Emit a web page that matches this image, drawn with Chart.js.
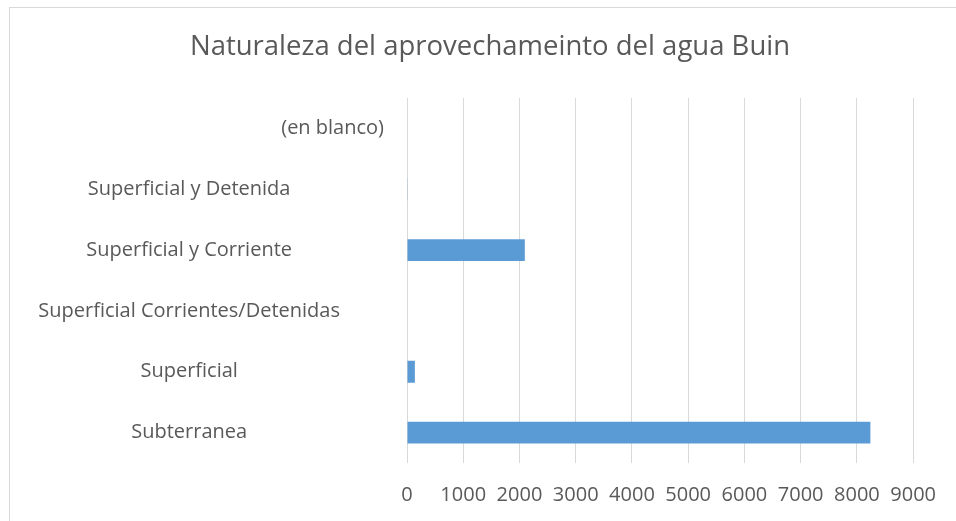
<!DOCTYPE html>
<html>
<head>
<meta charset="utf-8">
<script src="https://cdn.jsdelivr.net/npm/chart.js@4/dist/chart.umd.min.js"></script>
<style>
  body { margin: 0; background: #fff; }
  .frame { position: absolute; left: 9px; top: 7px; width: 1000px; height: 600px; border: 1px solid #d9d9d9; }
  .wrap { position: absolute; left: 0; top: 0; width: 956px; height: 521px; }
</style>
</head>
<body>
<div class="frame"></div>
<div class="wrap"><canvas id="chart"></canvas></div>
<script>
// data
const categories = ['(en blanco)', 'Superficial y Detenida', 'Superficial y Corriente',
    'Superficial Corrientes/Detenidas', 'Superficial', 'Subterranea'];
const values = [0, 12, 2095, 0, 140, 8240];
const xTicks = [0, 1000, 2000, 3000, 4000, 5000, 6000, 7000, 8000, 9000];

const FONT = "'Open Sans', sans-serif";
const GREY = '#595959';
const LABEL_SIZE = 20;

// the "(en blanco)" label sits further right in the original
const shiftedLabel = {
    id: 'shiftedLabel',
    afterDraw(chart) {
        const y = chart.scales.y;
        const ctx = chart.ctx;
        ctx.save();
        ctx.font = LABEL_SIZE + 'px ' + FONT;
        ctx.fillStyle = GREY;
        ctx.textAlign = 'right';
        ctx.textBaseline = 'middle';
        ctx.fillText(categories[0], chart.chartArea.left - 23, y.getPixelForTick(0));
        ctx.restore();
    }
};

new Chart(document.getElementById('chart'), {
    type: 'bar',
    data: {
        labels: categories,
        datasets: [{
            data: values,
            backgroundColor: '#5b9bd5',
            barPercentage: 0.6,
            categoryPercentage: 0.6
        }]
    },
    options: {
        indexAxis: 'y',
        responsive: true,
        maintainAspectRatio: false,
        animation: false,
        layout: { padding: { top: 0, right: 0, bottom: 8, left: 24 } },
        plugins: {
            legend: { display: false },
            tooltip: { enabled: false },
            title: {
                display: true,
                text: 'Naturaleza del aprovechameinto del agua Buin',
                color: GREY,
                font: { family: FONT, size: 27.5, weight: 'normal' },
                padding: { top: 31, bottom: 34 }
            }
        },
        scales: {
            x: {
                min: 0,
                max: 9000,
                afterBuildTicks(scale) { scale.ticks = xTicks.map(v => ({ value: v })); },
                grid: { color: '#d9d9d9', drawTicks: false },
                border: { display: false },
                ticks: {
                    color: GREY,
                    font: { family: FONT, size: LABEL_SIZE },
                    padding: 20,
                    maxRotation: 0,
                    autoSkip: false,
                    callback: v => String(v)
                },
                afterFit(scale) { scale.height = 50; }
            },
            y: {
                grid: { display: false, drawTicks: false },
                border: { display: false },
                ticks: {
                    color: ctx => ctx.index === 0 ? 'rgba(0,0,0,0)' : GREY,
                    font: { family: FONT, size: LABEL_SIZE },
                    crossAlign: 'center',
                    padding: 67
                },
                afterFit(scale) {
                    scale.width = 383;
                    scale.paddingTop = 0;
                    scale.paddingBottom = 0;
                }
            },
            // empty axis on the right, keeps room after the plot
            y2: {
                position: 'right',
                grid: { display: false, drawTicks: false },
                border: { display: false },
                ticks: { display: false },
                afterFit(scale) { scale.width = 41; }
            }
        }
    },
    plugins: [shiftedLabel]
});
</script>
</body>
</html>
